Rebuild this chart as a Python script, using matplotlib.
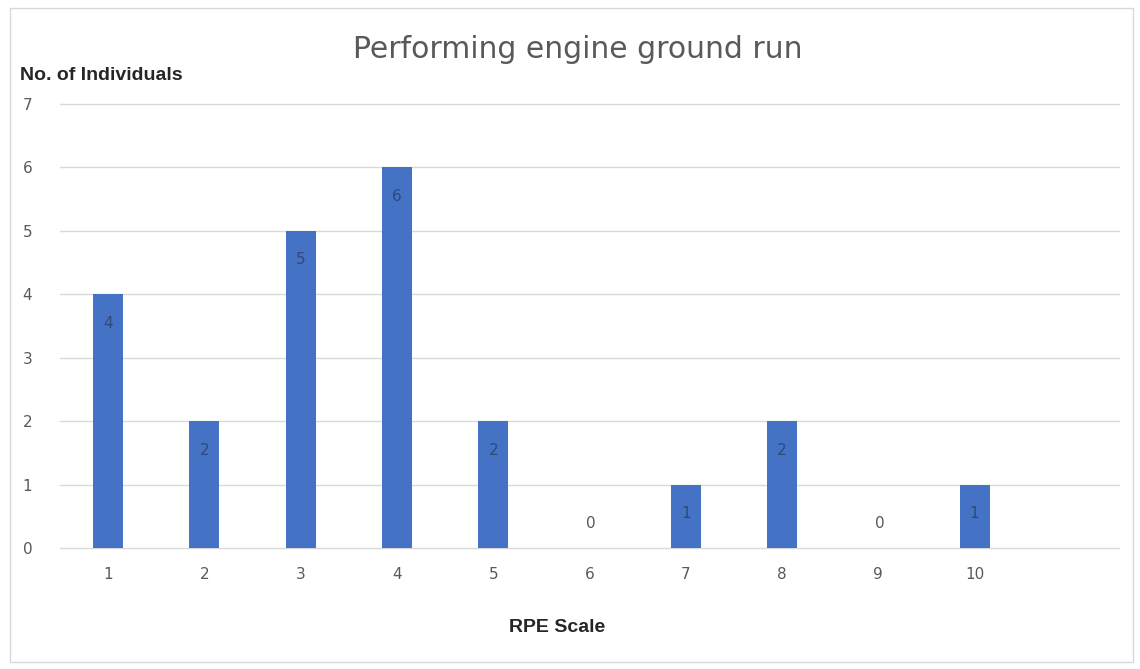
import matplotlib.pyplot as plt
from matplotlib.patches import Rectangle

rpe = [1, 2, 3, 4, 5, 6, 7, 8, 9, 10]
individuals = [4, 2, 5, 6, 2, 0, 1, 2, 0, 1]
yticks = [0, 1, 2, 3, 4, 5, 6, 7]

fig = plt.figure(figsize=(11.4, 6.69), dpi=100)
fig.patches.append(Rectangle((10 / 1140, 7 / 669), 1123 / 1140, 654 / 669,
                             transform=fig.transFigure, fill=False,
                             edgecolor='#d9d9d9', lw=1))

ax = fig.add_axes([60 / 1140, 121 / 669, 1059 / 1140, 444 / 669])
ax.bar(rpe, individuals, width=0.31, color='#4472C4', zorder=3)

# data labels: inside the bar top, or above the axis for zero
for x, v in zip(rpe, individuals):
    if v > 0:
        ax.annotate(str(v), (x, v), xytext=(0, -29), textcoords='offset pixels',
                    ha='center', va='center', fontsize=11, color='#2f4a7a', zorder=4)
    else:
        ax.annotate(str(v), (x, v), xytext=(1, 25), textcoords='offset pixels',
                    ha='center', va='center', fontsize=11, color='#595959', zorder=4)

ax.set_xlim(0.5, 11.5)
ax.set_ylim(0, 7)
ax.set_yticks(yticks)
ax.set_xticks(rpe)
ax.grid(axis='y', color='#d9d9d9', lw=1, zorder=0)
for gl in ax.get_ygridlines():
    gl.set_clip_on(False)
for s in ax.spines.values():
    s.set_visible(False)
ax.tick_params(length=0, labelsize=11, labelcolor='#595959')
ax.tick_params(axis='y', pad=20)
ax.tick_params(axis='x', pad=14)

fig.text(578 / 1140, 1 - 50 / 669, 'Performing engine ground run', ha='center', va='center',
         fontsize=21.5, color='#595959')
fig.text(20 / 1140, 1 - 76 / 669, 'No. of Individuals', ha='left', va='center',
         fontsize=14, fontweight='bold', color='#262626',
         family=['Liberation Sans Narrow', 'Liberation Sans', 'DejaVu Sans'])
fig.text(557 / 1140, 1 - 627 / 669, 'RPE Scale', ha='center', va='center',
         fontsize=14, fontweight='bold', color='#262626',
         family=['Liberation Sans Narrow', 'Liberation Sans', 'DejaVu Sans'])

plt.savefig('out.png', dpi=100)
